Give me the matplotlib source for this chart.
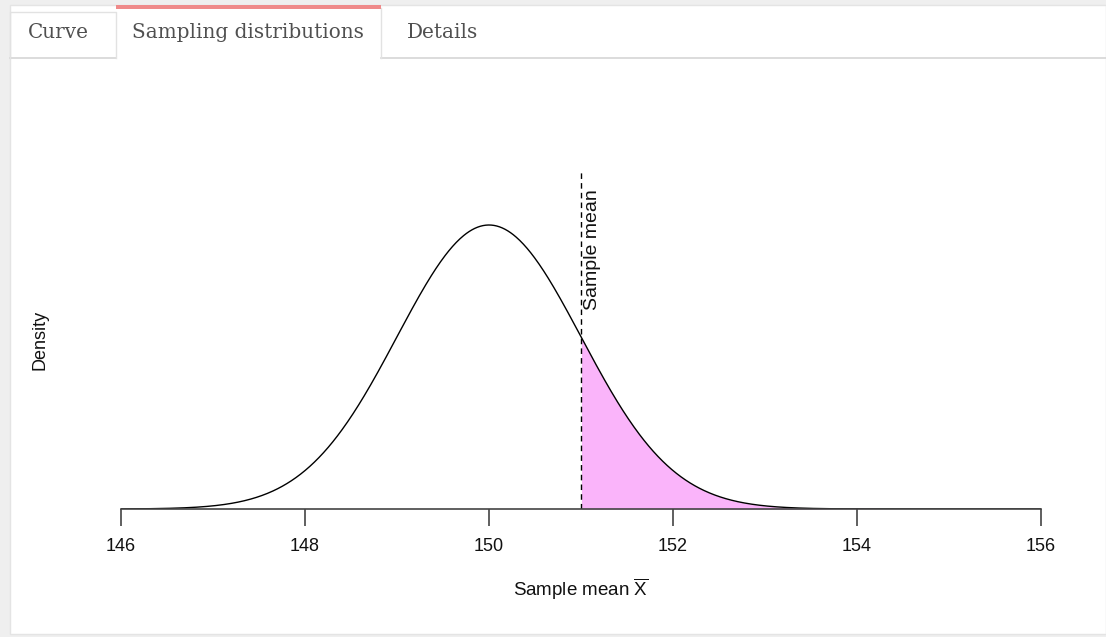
import numpy as np
import matplotlib
matplotlib.use("Agg")
import matplotlib.pyplot as plt
from matplotlib.patches import Rectangle
from matplotlib.lines import Line2D

# ---- data ----
pop_mean = 150.0
pop_sd = 1.0
sample_mean = 151.0
x_ticks = [146, 148, 150, 152, 154, 156]
x_range = (146, 156)
tab_labels = ["Curve", "Sampling distributions", "Details"]
x_label = r"Sample mean $\overline{\mathrm{X}}$"
y_label = "Density"
line_label = "Sample mean"

plt.rcParams["font.family"] = ["Liberation Sans", "DejaVu Sans"]
plt.rcParams["mathtext.fontset"] = "custom"
plt.rcParams["mathtext.rm"] = "Liberation Sans"
plt.rcParams["mathtext.it"] = "Liberation Sans:italic"

W, H = 1106, 637
fig = plt.figure(figsize=(W / 100, H / 100), dpi=100, facecolor="#efefef")


def fx(px):
    return px / W


def fy(py):
    return 1 - py / H


# white panel
fig.patches.append(Rectangle((fx(10), fy(634)), fx(1106) - fx(10), fy(5) - fy(634),
                             transform=fig.transFigure, facecolor="white",
                             edgecolor="#e4e4e4", lw=1, zorder=0))
# tab bar bottom line (except under active tab)
for x0, x1 in [(10, 116), (381, 1106)]:
    fig.lines.append(Line2D([fx(x0), fx(x1)], [fy(57.5), fy(57.5)], transform=fig.transFigure,
                            color="#d6d6d6", lw=1.2, zorder=1))
# Curve tab box
fig.lines.append(Line2D([fx(10), fx(10), fx(116), fx(116)], [fy(57.5), fy(12), fy(12), fy(57.5)],
                        transform=fig.transFigure, color="#e2e2e2", lw=1, zorder=1))
# Active tab borders
fig.lines.append(Line2D([fx(381), fx(381)], [fy(8), fy(57.5)],
                        transform=fig.transFigure, color="#e2e2e2", lw=1, zorder=1))
fig.patches.append(Rectangle((fx(116), fy(9)), fx(381) - fx(116), fy(5) - fy(9),
                             transform=fig.transFigure, facecolor="#ef8a8a", edgecolor="none",
                             zorder=1))

tab_centers = [58, 248, 443]
for lab, cx in zip(tab_labels, tab_centers):
    fig.text(fx(cx), fy(33), lab, ha="center", va="center", fontsize=14.4,
             family=["DejaVu Serif"], color="#505050", zorder=2)

# ---- plot ----
ax_left, ax_right, ax_bottom, ax_top = 121, 1041, 509, 170
ax = fig.add_axes([fx(ax_left), fy(ax_bottom), fx(ax_right) - fx(ax_left), fy(ax_top) - fy(ax_bottom)])
ax.set_zorder(5)
ax.set_facecolor("none")

xs = np.linspace(x_range[0], x_range[1], 1000)
dens = np.exp(-0.5 * ((xs - pop_mean) / pop_sd) ** 2) / (pop_sd * np.sqrt(2 * np.pi))
peak = 1 / (pop_sd * np.sqrt(2 * np.pi))

mask = xs >= sample_mean
ax.fill_between(xs[mask], 0, dens[mask], color="#fab4fa", lw=0)
ax.plot(xs, dens, color="black", lw=1.0)
ax.axvline(sample_mean, color="black", lw=1.0, ls=(0, (4, 3)))
ax.text(sample_mean + 0.12, peak * 0.70, line_label, rotation=90, ha="center", va="bottom",
        fontsize=14, color="#111111")

ax.set_xlim(*x_range)
ax.set_ylim(0, peak * (ax_bottom - ax_top) / (ax_bottom - 225))
for s in ["top", "right", "left"]:
    ax.spines[s].set_visible(False)
ax.spines["bottom"].set_color("#444444")
ax.spines["bottom"].set_linewidth(1.2)
ax.spines["bottom"].set_bounds(x_range[0], x_range[1])
ax.set_xticks(x_ticks)
ax.set_xticklabels([str(t) for t in x_ticks])
ax.set_yticks([])
ax.tick_params(axis="x", length=12, width=1.2, color="#444444", labelsize=13, pad=9,
               labelcolor="#111111")
ax.set_xlabel(x_label, fontsize=13.5, labelpad=15, color="#111111")
ax.set_ylabel(y_label, fontsize=13, labelpad=52, color="#111111")

fig.savefig("out.png", dpi=100, facecolor=fig.get_facecolor())
